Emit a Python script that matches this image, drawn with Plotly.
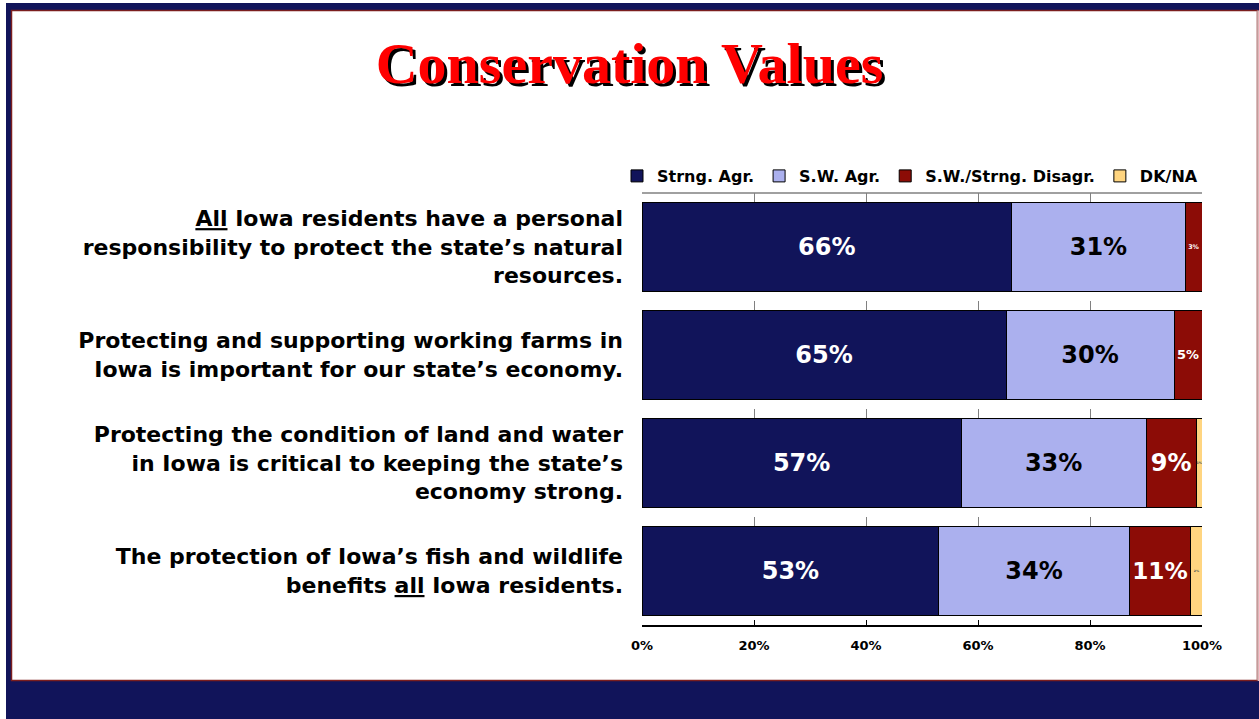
import plotly.graph_objects as go

# Survey statements (top to bottom) and response shares in percent
statements = [
    "<u>All</u> Iowa residents have a personal<br>responsibility to protect the state’s natural<br>resources.",
    "Protecting and supporting working farms in<br>Iowa is important for our state’s economy.",
    "Protecting the condition of land and water<br>in Iowa is critical to keeping the state’s<br>economy strong.",
    "The protection of Iowa’s fish and wildlife<br>benefits <u>all</u> Iowa residents.",
]
series_names = ["Strng. Agr.", "S.W. Agr.", "S.W./Strng. Disagr.", "DK/NA"]
strongly_agree = [66, 65, 57, 53]
somewhat_agree = [31, 30, 33, 34]
disagree = [3, 5, 9, 11]
dont_know = [0, 0, 1, 2]
x_ticks = [0, 20, 40, 60, 80, 100]

NAVY = "#11145A"
LIGHT = "#ABB0EE"
DARKRED = "#8C0C06"
YELLOW = "#FFD580"
FONT = "DejaVu Sans"

# plot area in pixels
W, H = 1259, 719
L, R, T, B = 642, 1202, 193, 625


def px(x):
    return (x - L) / (R - L)


def py(y):
    return (B - y) / (B - T)


series = [
    (series_names[0], strongly_agree, NAVY, "white", [24, 24, 24, 24]),
    (series_names[1], somewhat_agree, LIGHT, "black", [24, 24, 24, 24]),
    (series_names[2], disagree, DARKRED, "white", [8, 13, 24, 24]),
    (series_names[3], dont_know, YELLOW, "#555555", [5, 5, 5, 5]),
]

fig = go.Figure()
for name, vals, color, tcolor, tsize in series:
    fig.add_trace(go.Bar(
        name=name,
        y=statements,
        x=vals,
        orientation="h",
        marker=dict(color=color, line=dict(color="black", width=1)),
        text=[f"{v}%" if v else "" for v in vals],
        textposition="inside",
        insidetextanchor="middle",
        textangle=0,
        textfont=dict(family=FONT, size=tsize, color=tcolor, weight="bold"),
        hoverinfo="skip",
    ))

shapes = [
    # slide frame
    dict(type="rect", xref="paper", yref="paper", x0=px(6), x1=px(W), y0=py(3), y1=py(10.5),
         fillcolor=NAVY, line_width=0, layer="below"),
    dict(type="rect", xref="paper", yref="paper", x0=px(6), x1=px(11.5), y0=py(3), y1=py(H),
         fillcolor=NAVY, line_width=0, layer="below"),
    dict(type="rect", xref="paper", yref="paper", x0=px(6), x1=px(W), y0=py(681), y1=py(H),
         fillcolor=NAVY, line_width=0, layer="below"),
    dict(type="rect", xref="paper", yref="paper", x0=px(11.5), x1=px(1257.5), y0=py(10.5), y1=py(680.5),
         line=dict(color="#7B1E1E", width=1.5), layer="below"),
    dict(type="line", xref="paper", yref="paper", x0=px(1257.5), x1=px(1257.5), y0=py(10.5), y1=py(680.5),
         line=dict(color="#C89A9A", width=1.5), layer="below"),
    # top edge of the chart area
    dict(type="line", xref="x", yref="paper", x0=0, x1=100, y0=1, y1=1,
         line=dict(color="#808080", width=1.5), layer="below"),
]

fig.update_layout(
    width=W,
    height=H,
    margin=dict(l=L, r=W - R, t=T, b=H - B, pad=0),
    paper_bgcolor="white",
    plot_bgcolor="white",
    barmode="stack",
    bargap=0.167,
    showlegend=True,
    title=dict(
        text="Conservation Values",
        x=0.5,
        xanchor="center",
        y=1 - 63 / H,
        yanchor="middle",
        font=dict(family="Liberation Serif", size=58, color="#FF0000", weight="bold",
                  shadow="3px 3px 0px #000000"),
    ),
    legend=dict(
        orientation="h",
        traceorder="normal",
        x=px(617),
        xanchor="left",
        y=py(176),
        yanchor="middle",
        font=dict(family=FONT, size=16, color="black", weight="bold"),
        bgcolor="rgba(0,0,0,0)",
        borderwidth=0,
        itemwidth=30,
    ),
    xaxis=dict(
        range=[0, 100],
        tickvals=x_ticks,
        ticktext=[f"{v}%" for v in x_ticks],
        tickfont=dict(family=FONT, size=13, color="black", weight="bold"),
        ticklabelstandoff=8,
        showgrid=True,
        gridcolor="#808080",
        griddash="dash",
        gridwidth=1,
        zeroline=False,
        showline=True,
        linecolor="black",
        linewidth=1.5,
        ticks="inside",
        ticklen=5,
        tickcolor="black",
        fixedrange=True,
    ),
    yaxis=dict(
        autorange="reversed",
        showgrid=False,
        zeroline=False,
        showline=False,
        ticks="",
        ticklabelstandoff=18,
        tickfont=dict(family=FONT, size=22, color="black", weight="bold"),
        fixedrange=True,
    ),
    shapes=shapes,
)

fig.write_html("out.html", config={"displayModeBar": False})
